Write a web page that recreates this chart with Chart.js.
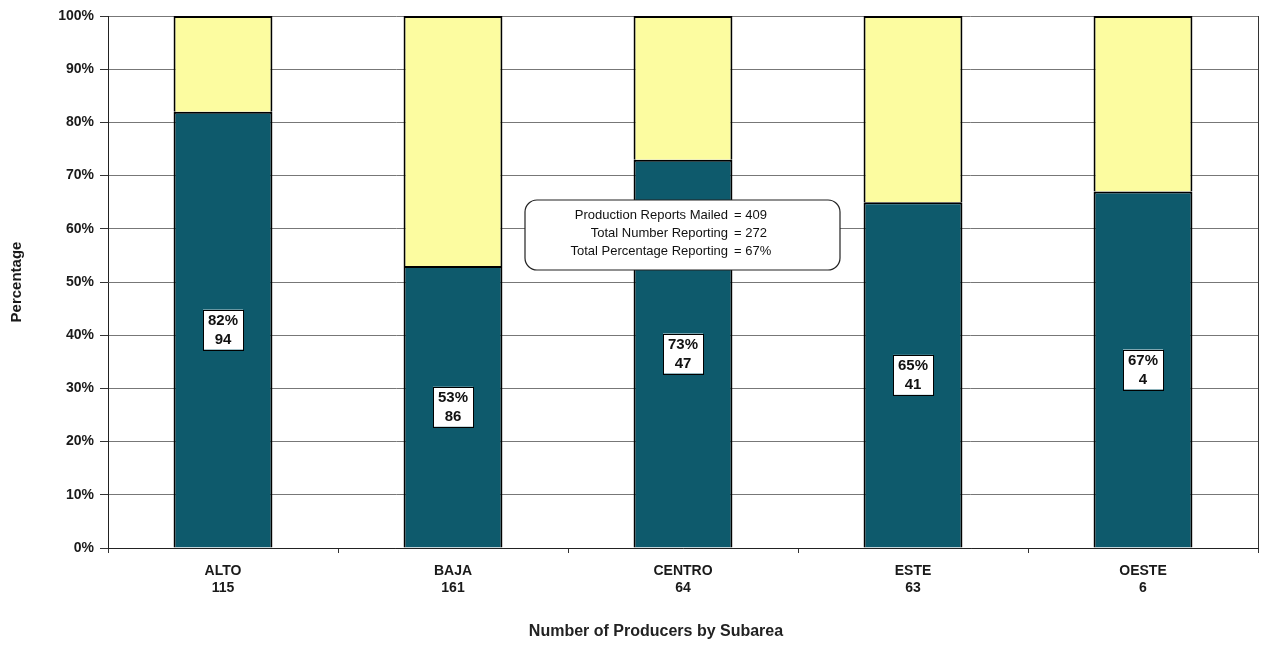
<!DOCTYPE html>
<html>
<head>
<meta charset="utf-8">
<script src="https://cdn.jsdelivr.net/npm/chart.js@4/dist/chart.umd.min.js"></script>
<style>
html,body{margin:0;padding:0;background:#fff;}
#wrap{width:1262px;height:646px;position:relative;}
</style>
</head>
<body>
<div id="wrap"><canvas id="c" width="1262" height="646"></canvas></div>
<script>
const subareas = ['ALTO', 'BAJA', 'CENTRO', 'ESTE', 'OESTE'];
const producers = ['115', '161', '64', '63', '6'];
const reportingPct = [82, 53, 73, 65, 67];
const notReportingPct = [18, 47, 27, 35, 33];
const reportingCount = ['94', '86', '47', '41', '4'];
const yTicks = [0, 10, 20, 30, 40, 50, 60, 70, 80, 90, 100];
const summaryLabels = ['Production Reports Mailed', 'Total Number Reporting', 'Total Percentage Reporting'];
const summaryValues = ['= 409', '= 272', '= 67%'];
const xTitle = 'Number of Producers by Subarea';
const yTitle = 'Percentage';

const FONT = '"Liberation Sans", Arial, sans-serif';

const labelPlugin = {
  id: 'extras',
  afterDatasetsDraw(chart) {
    const ctx = chart.ctx;
    const meta = chart.getDatasetMeta(0);
    const area = chart.chartArea;
    ctx.save();
    // right border
    ctx.strokeStyle = '#333';
    ctx.lineWidth = 1;
    ctx.beginPath();
    ctx.moveTo(Math.round(area.right) + 0.5, area.top);
    ctx.lineTo(Math.round(area.right) + 0.5, area.bottom);
    ctx.stroke();
    // value labels
    ctx.font = 'bold 15px ' + FONT;
    ctx.textAlign = 'center';
    ctx.textBaseline = 'middle';
    meta.data.forEach((bar, i) => {
      const cx = bar.x;
      const cy = (bar.y + bar.base) / 2;
      const w = 40, h = 40;
      ctx.fillStyle = '#fff';
      ctx.fillRect(cx - w / 2, cy - h / 2, w, h);
      ctx.strokeStyle = '#000';
      ctx.lineWidth = 1;
      ctx.strokeRect(Math.round(cx - w / 2) + 0.5, Math.round(cy - h / 2) + 0.5, w, h);
      ctx.fillStyle = '#111';
      ctx.fillText(reportingPct[i] + '%', cx, cy - 9);
      ctx.fillText(reportingCount[i], cx, cy + 10);
    });
    // summary box
    const bx = 525, by = 200, bw = 315, bh = 70, r = 12;
    ctx.beginPath();
    ctx.moveTo(bx + r, by);
    ctx.lineTo(bx + bw - r, by);
    ctx.arcTo(bx + bw, by, bx + bw, by + r, r);
    ctx.lineTo(bx + bw, by + bh - r);
    ctx.arcTo(bx + bw, by + bh, bx + bw - r, by + bh, r);
    ctx.lineTo(bx + r, by + bh);
    ctx.arcTo(bx, by + bh, bx, by + bh - r, r);
    ctx.lineTo(bx, by + r);
    ctx.arcTo(bx, by, bx + r, by, r);
    ctx.closePath();
    ctx.fillStyle = '#fff';
    ctx.fill();
    ctx.strokeStyle = '#222';
    ctx.lineWidth = 1.2;
    ctx.stroke();
    ctx.font = '13px ' + FONT;
    ctx.fillStyle = '#111';
    summaryLabels.forEach((t, i) => {
      const y = 215 + i * 18;
      ctx.textAlign = 'right';
      ctx.fillText(t, 728, y);
      ctx.textAlign = 'left';
      ctx.fillText(summaryValues[i], 734, y);
    });
    // x title
    ctx.font = 'bold 16px ' + FONT;
    ctx.textAlign = 'center';
    ctx.fillStyle = '#222';
    ctx.fillText(xTitle, 656, 632);
    ctx.restore();
  }
};

new Chart(document.getElementById('c'), {
  type: 'bar',
  data: {
    labels: subareas.map((s, i) => [s, producers[i]]),
    datasets: [
      { label: 'Reporting', data: reportingPct, backgroundColor: '#0e5a6c', borderColor: '#000', borderWidth: 2, barPercentage: 0.43, categoryPercentage: 1 },
      { label: 'Not reporting', data: notReportingPct, backgroundColor: '#fcfca0', borderColor: '#000', borderWidth: 2, barPercentage: 0.43, categoryPercentage: 1 }
    ]
  },
  options: {
    responsive: false,
    animation: false,
    devicePixelRatio: 1,
    layout: { padding: { top: 16, right: 4, left: 0, bottom: 0 } },
    plugins: { legend: { display: false }, tooltip: { enabled: false }, title: { display: false } },
    scales: {
      x: {
        stacked: true,
        afterFit(s) { s.height = 98; },
        grid: { display: true, drawOnChartArea: false, drawTicks: true, tickLength: 5, offset: true, color: '#333' },
        border: { display: true, color: '#222', width: 1 },
        ticks: { color: '#1a1a1a', font: { family: FONT, size: 14, weight: 'bold' }, padding: 10, maxRotation: 0 }
      },
      y: {
        stacked: true,
        min: 0, max: 100,
        afterFit(s) { s.width = 108; },
        afterBuildTicks(s) { s.ticks = yTicks.map(v => ({ value: v })); },
        grid: { color: '#777', lineWidth: 1, tickLength: 8, tickColor: '#333' },
        border: { display: true, color: '#222', width: 1 },
        ticks: { color: '#1a1a1a', font: { family: FONT, size: 14, weight: 'bold' }, padding: 6, callback: v => v + '%' },
        title: { display: true, text: yTitle, color: '#1a1a1a', font: { family: FONT, size: 15, weight: 'bold' }, padding: { top: 8, bottom: 0 } }
      }
    }
  },
  plugins: [labelPlugin]
});
</script>
</body>
</html>
